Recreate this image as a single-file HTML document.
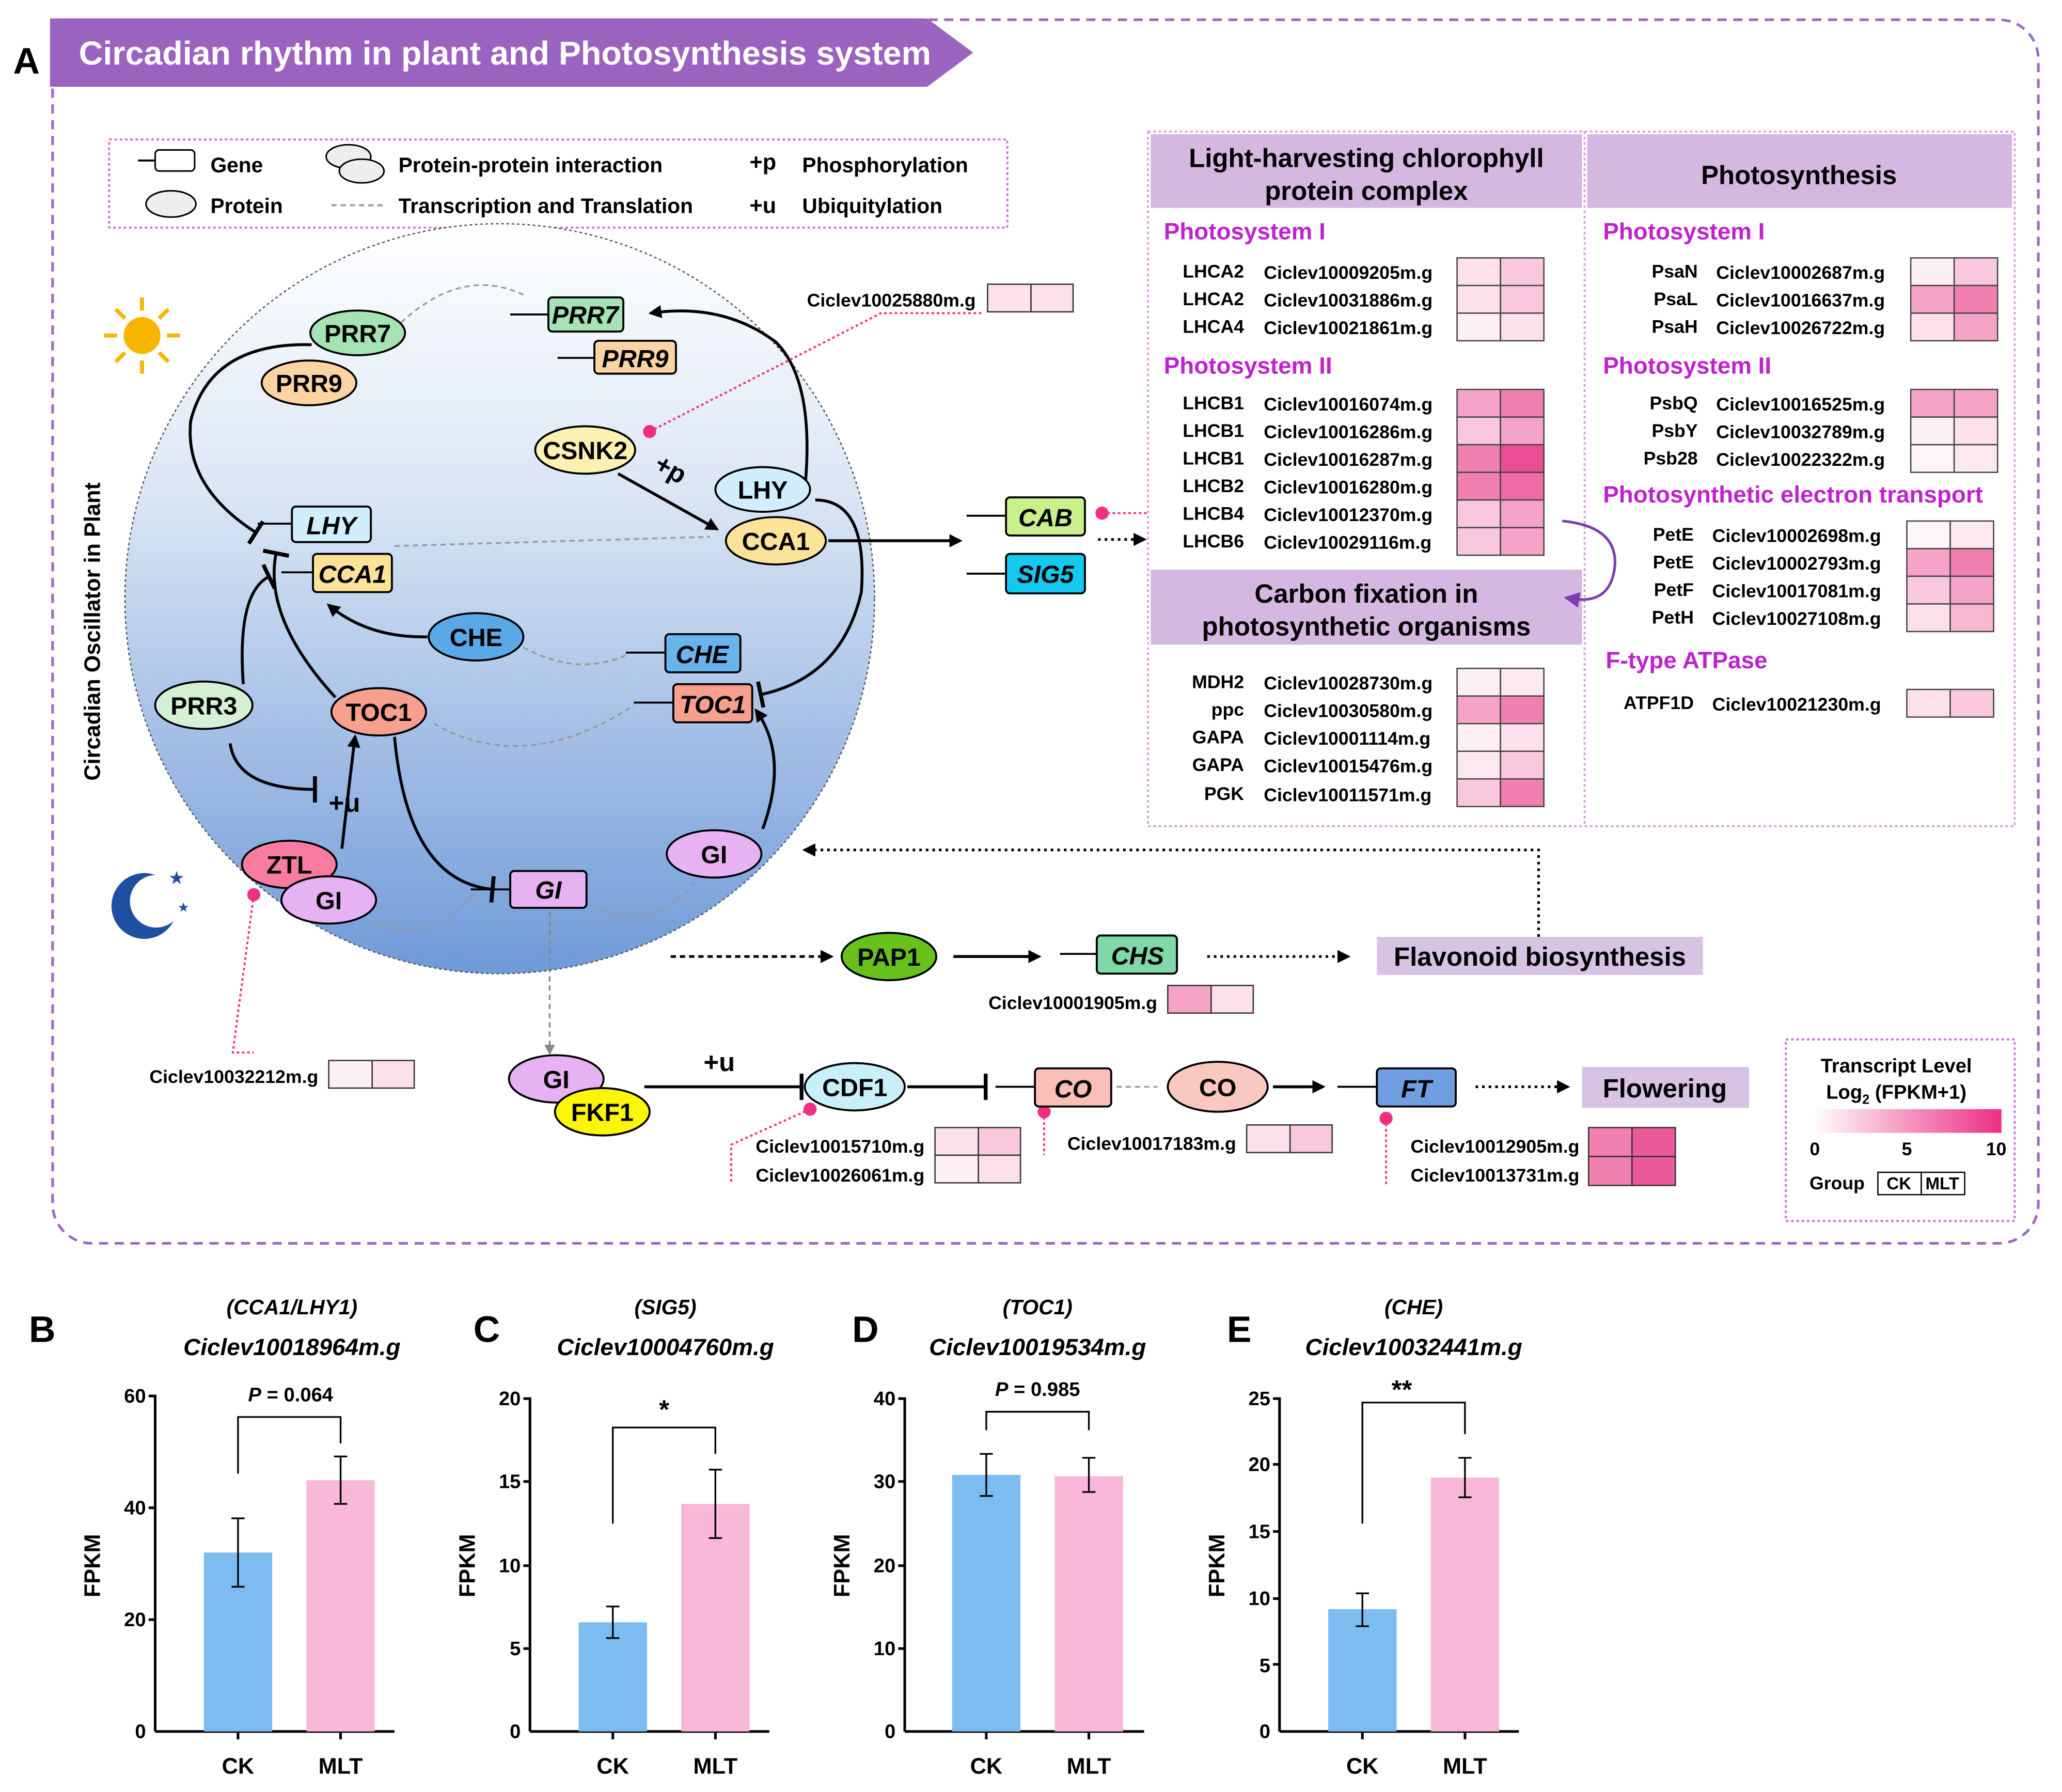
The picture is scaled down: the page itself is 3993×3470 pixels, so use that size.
<!DOCTYPE html>
<html><head><meta charset="utf-8"><style>html,body{margin:0;padding:0;background:#fff}svg{display:block}text{font-family:"Liberation Sans",Arial,sans-serif}</style></head>
<body>
<svg width="3993" height="3470" viewBox="0 0 1568 1362" preserveAspectRatio="none" xmlns="http://www.w3.org/2000/svg">
<defs>
<linearGradient id="cg" x1="0" y1="0" x2="0" y2="1"><stop offset="0" stop-color="#ffffff"/><stop offset="0.35" stop-color="#dce7f5"/><stop offset="1" stop-color="#6f9ad8"/></linearGradient>
<linearGradient id="lg" x1="0" y1="0" x2="1" y2="0"><stop offset="0" stop-color="#ffffff"/><stop offset="1" stop-color="#ec2f84"/></linearGradient>
<marker id="ar" markerWidth="10" markerHeight="10" refX="8" refY="5" orient="auto" markerUnits="userSpaceOnUse"><path d="M0,0 L10,5 L0,10 z" fill="#000"/></marker>
<marker id="arg" markerWidth="8" markerHeight="8" refX="6" refY="4" orient="auto" markerUnits="userSpaceOnUse"><path d="M0,0 L8,4 L0,8 z" fill="#888"/></marker>
<marker id="arp" markerWidth="12" markerHeight="12" refX="6" refY="6" orient="auto" markerUnits="userSpaceOnUse"><path d="M0,0 L12,6 L0,12 z" fill="#7b3fb0"/></marker>
<marker id="tb" markerWidth="4" markerHeight="20" refX="2" refY="10" orient="auto" markerUnits="userSpaceOnUse"><rect x="0" y="0" width="3" height="20" fill="#000"/></marker>
</defs>

<rect x="40" y="15" width="1510" height="930" rx="30" fill="none" stroke="#9b6abf" stroke-width="2" stroke-dasharray="7,5"/>
<polygon points="38,14 705,14 740,40 705,66 38,66" fill="#9b63c0"/>
<text x="60" y="49" font-size="25" font-weight="bold" fill="#fff" textLength="648" lengthAdjust="spacingAndGlyphs">Circadian rhythm in plant and Photosynthesis system</text>
<text x="10" y="56" font-size="28" font-weight="bold">A</text>

<rect x="83" y="106" width="683" height="67" fill="none" stroke="#d070d0" stroke-width="1.5" stroke-dasharray="2,2"/>
<line x1="105" y1="122" x2="118" y2="122" stroke="#000" stroke-width="1.5"/><rect x="118" y="114" width="30" height="16" rx="3" fill="#fff" stroke="#000" stroke-width="1.2"/>
<text x="160" y="131" font-size="16" font-weight="bold">Gene</text>
<ellipse cx="130" cy="155" rx="19" ry="10" fill="#eee" stroke="#000" stroke-width="1.2"/><text x="160" y="162" font-size="16" font-weight="bold">Protein</text>
<ellipse cx="265" cy="119" rx="17" ry="9" fill="#eee" stroke="#000" stroke-width="1.2"/><ellipse cx="275" cy="130" rx="17" ry="9" fill="#eee" stroke="#000" stroke-width="1.2"/>
<text x="303" y="131" font-size="16" font-weight="bold">Protein-protein interaction</text>
<line x1="252" y1="156" x2="293" y2="156" stroke="#999" stroke-width="1.5" stroke-dasharray="4,3"/>
<text x="303" y="162" font-size="16" font-weight="bold">Transcription and Translation</text>
<text x="570" y="129" font-size="17" font-weight="bold">+p</text><text x="610" y="131" font-size="16" font-weight="bold">Phosphorylation</text>
<text x="570" y="162" font-size="17" font-weight="bold">+u</text><text x="610" y="162" font-size="16" font-weight="bold">Ubiquitylation</text>

<circle cx="380" cy="455" r="285" fill="url(#cg)" stroke="#555" stroke-width="1" stroke-dasharray="2,2"/>
<text x="76" y="480" font-size="17" font-weight="bold" transform="rotate(-90 76 480)" text-anchor="middle">Circadian Oscillator in Plant</text>
<g stroke="#f7b500" stroke-width="3"><line x1="108" y1="226" x2="108" y2="236"/><line x1="108" y1="274" x2="108" y2="284"/><line x1="79" y1="255" x2="89" y2="255"/><line x1="127" y1="255" x2="137" y2="255"/><line x1="88" y1="235" x2="95" y2="242"/><line x1="121" y1="268" x2="128" y2="275"/><line x1="88" y1="275" x2="95" y2="268"/><line x1="121" y1="242" x2="128" y2="235"/></g>
<circle cx="108" cy="255" r="14" fill="#f7b500"/>
<path d="M118,665 A25,25 0 1 0 132,700 A20,20 0 1 1 118,665 z" fill="#1f4fa0"/>
<text x="128" y="672" font-size="14" fill="#1f4fa0">★</text><text x="135" y="693" font-size="10" fill="#1f4fa0">★</text>

<g fill="none" stroke="#999" stroke-width="1.3" stroke-dasharray="4,3">
<path d="M300,250 Q350,200 400,225"/>
<path d="M300,415 L540,408"/>
<path d="M398,492 Q440,515 478,497"/>
<path d="M330,550 Q400,590 482,536"/>
<path d="M280,700 Q330,720 360,678"/>
<path d="M450,690 Q500,710 530,668"/>
<path d="M849,826 L880,826"/>
</g>
<line x1="418" y1="693" x2="418" y2="800" stroke="#888" stroke-width="1.3" stroke-dasharray="4,3" marker-end="url(#arg)"/>

<g fill="none" stroke="#000" stroke-width="2.2">
<path d="M237,262 Q160,260 145,320 Q140,370 195,405" marker-end="url(#tb)"/>
<path d="M255,530 Q200,470 210,420" marker-end="url(#tb)"/>
<path d="M185,520 Q180,450 205,438" marker-end="url(#tb)"/>
<path d="M325,484 Q280,485 250,460" marker-end="url(#ar)"/>
<path d="M470,360 L545,402" marker-end="url(#ar)"/>
<path d="M620,380 Q660,380 655,450 Q640,515 578,528" marker-end="url(#tb)"/>
<path d="M612,372 Q620,290 590,260 Q550,230 495,238" marker-end="url(#ar)"/>
<path d="M630,411 L730,411" marker-end="url(#ar)"/>
<path d="M260,645 Q265,600 270,560" marker-end="url(#ar)"/>
<path d="M175,565 Q180,600 240,600" marker-end="url(#tb)"/>
<path d="M300,560 Q310,670 375,676" marker-end="url(#tb)"/>
<path d="M580,630 Q600,575 575,540" marker-end="url(#ar)"/>
<path d="M725,727 L790,727" marker-end="url(#ar)"/>
<path d="M490,826 L610,826" marker-end="url(#tb)"/>
<path d="M690,826 L750,826" marker-end="url(#tb)"/>
<path d="M968,826 L1006,826" marker-end="url(#ar)"/>
</g>
<g fill="none" stroke="#000" stroke-width="2" stroke-dasharray="4,3">
<path d="M510,727 L632,727" marker-end="url(#ar)"/>
</g>
<g fill="none" stroke="#000" stroke-width="2" stroke-dasharray="2,3">
<path d="M835,410 L870,410" marker-end="url(#ar)"/>
<path d="M918,727 L1025,727" marker-end="url(#ar)"/>
<path d="M1122,826 L1192,826" marker-end="url(#ar)"/>
<path d="M1170,712 L1170,646 L612,646" marker-end="url(#ar)"/>
</g>
<text x="497" y="362" font-size="20" font-weight="bold" transform="rotate(30 507 358)">+p</text>
<text x="250" y="617" font-size="20" font-weight="bold">+u</text>
<text x="535" y="814" font-size="20" font-weight="bold">+u</text>

<g fill="none" stroke="#f0307f" stroke-width="1.5" stroke-dasharray="2,2">
<path d="M494,328 L670,238 L748,238"/>
<path d="M838,390 L872,390"/>
<path d="M193,680 L177,800 L193,800"/>
<path d="M616,843 L556,870 L556,900"/>
<path d="M794,845 L794,878"/>
<path d="M1054,850 L1054,900"/>
<path d="M894,300 L894,410"/>
</g>
<g fill="#f0307f"><circle cx="494" cy="328" r="5"/><circle cx="838" cy="390" r="5"/><circle cx="193" cy="680" r="5"/><circle cx="616" cy="843" r="5"/><circle cx="794" cy="845" r="5"/><circle cx="1054" cy="850" r="5"/></g>

<g stroke="#000" stroke-width="1.5" font-weight="bold" font-size="19" text-anchor="middle">
<ellipse cx="272" cy="253" rx="36" ry="17" fill="#a6e3b4"/><text x="272" y="260" stroke="none">PRR7</text>
<ellipse cx="235" cy="291" rx="36" ry="17" fill="#fcd4a4"/><text x="235" y="298" stroke="none">PRR9</text>
<ellipse cx="445" cy="342" rx="38" ry="18" fill="#fbf1b3"/><text x="445" y="349" stroke="none">CSNK2</text>
<ellipse cx="580" cy="372" rx="36" ry="17" fill="#d0eefb"/><text x="580" y="379" stroke="none">LHY</text>
<ellipse cx="590" cy="411" rx="38" ry="18" fill="#fde39a"/><text x="590" y="418" stroke="none">CCA1</text>
<ellipse cx="362" cy="484" rx="36" ry="18" fill="#5ba8e8"/><text x="362" y="491" stroke="none">CHE</text>
<ellipse cx="288" cy="541" rx="36" ry="18" fill="#f7a08e"/><text x="288" y="548" stroke="none">TOC1</text>
<ellipse cx="155" cy="536" rx="37" ry="18" fill="#d6f0d6"/><text x="155" y="543" stroke="none">PRR3</text>
<ellipse cx="220" cy="657" rx="36" ry="18" fill="#f77ca0"/><text x="220" y="664" stroke="none">ZTL</text>
<ellipse cx="250" cy="684" rx="36" ry="18" fill="#e6b2f2"/><text x="250" y="691" stroke="none">GI</text>
<ellipse cx="543" cy="649" rx="36" ry="18" fill="#e6b2f2"/><text x="543" y="656" stroke="none">GI</text>
<ellipse cx="676" cy="727" rx="36" ry="18" fill="#66c21a"/><text x="676" y="734" stroke="none">PAP1</text>
<ellipse cx="423" cy="820" rx="36" ry="18" fill="#e6b2f2"/><text x="423" y="827" stroke="none">GI</text>
<ellipse cx="458" cy="845" rx="36" ry="18" fill="#fbf50a"/><text x="458" y="852" stroke="none">FKF1</text>
<ellipse cx="650" cy="826" rx="38" ry="18" fill="#c8f0f8"/><text x="650" y="833" stroke="none">CDF1</text>
<ellipse cx="926" cy="826" rx="38" ry="19" fill="#f9c8c0"/><text x="926" y="833" stroke="none">CO</text>
</g>

<g stroke="#000" stroke-width="1.5" font-weight="bold" font-style="italic" font-size="19" text-anchor="middle">
<line x1="388" y1="239" x2="417" y2="239"/><rect x="417" y="226" width="57" height="26" rx="3" fill="#a6e3b4"/><text x="445" y="246" stroke="none">PRR7</text>
<line x1="424" y1="272" x2="452" y2="272"/><rect x="452" y="259" width="62" height="25" rx="3" fill="#fcd4a4"/><text x="483" y="279" stroke="none">PRR9</text>
<line x1="196" y1="398" x2="222" y2="398"/><rect x="222" y="385" width="60" height="27" rx="3" fill="#d0eefb"/><text x="252" y="406" stroke="none">LHY</text>
<line x1="214" y1="435" x2="238" y2="435"/><rect x="238" y="421" width="60" height="29" rx="3" fill="#fde39a"/><text x="268" y="443" stroke="none">CCA1</text>
<line x1="476" y1="496" x2="506" y2="496"/><rect x="506" y="482" width="57" height="29" rx="3" fill="#6ab4ee"/><text x="534" y="504" stroke="none">CHE</text>
<line x1="482" y1="534" x2="512" y2="534"/><rect x="512" y="520" width="60" height="29" rx="3" fill="#f7a08e"/><text x="542" y="542" stroke="none">TOC1</text>
<line x1="358" y1="676" x2="388" y2="676"/><rect x="388" y="662" width="58" height="28" rx="3" fill="#e6b2f2"/><text x="417" y="683" stroke="none">GI</text>
<line x1="735" y1="392" x2="765" y2="392"/><rect x="765" y="378" width="60" height="29" rx="3" fill="#c9f08a"/><text x="795" y="400" stroke="none">CAB</text>
<line x1="735" y1="436" x2="765" y2="436"/><rect x="765" y="421" width="60" height="30" rx="3" fill="#14c8f0"/><text x="795" y="443" stroke="none">SIG5</text>
<line x1="806" y1="725" x2="834" y2="725"/><rect x="834" y="711" width="61" height="29" rx="3" fill="#7fd8a8"/><text x="865" y="733" stroke="none">CHS</text>
<line x1="757" y1="826" x2="787" y2="826"/><rect x="787" y="812" width="58" height="29" rx="3" fill="#f9c0b8"/><text x="816" y="834" stroke="none">CO</text>
<line x1="1017" y1="826" x2="1047" y2="826"/><rect x="1047" y="812" width="60" height="29" rx="3" fill="#6f9fe0"/><text x="1077" y="834" stroke="none">FT</text>
</g>
<rect x="1047" y="712" width="248" height="29" fill="#d9c3e4"/><text x="1171" y="734" font-size="20" font-weight="bold" text-anchor="middle">Flavonoid biosynthesis</text>
<rect x="1203" y="811" width="127" height="31" fill="#d9c3e4"/><text x="1266" y="834" font-size="20" font-weight="bold" text-anchor="middle">Flowering</text>

<g font-size="14" font-weight="bold" text-anchor="end">
<text x="742" y="233">Ciclev10025880m.g</text>
<text x="880" y="767">Ciclev10001905m.g</text>
<text x="242" y="823">Ciclev10032212m.g</text>
<text x="703" y="876">Ciclev10015710m.g</text>
<text x="703" y="898">Ciclev10026061m.g</text>
<text x="940" y="874">Ciclev10017183m.g</text>
<text x="1201" y="876">Ciclev10012905m.g</text>
<text x="1201" y="898">Ciclev10013731m.g</text>
</g>
<g stroke="#333" stroke-width="1">
<rect x="751" y="216" width="33" height="21" fill="#fce0ec"/><rect x="784" y="216" width="32" height="21" fill="#fce0ec"/>
<rect x="888" y="749" width="33" height="21" fill="#f5a3c6"/><rect x="921" y="749" width="32" height="21" fill="#fce0ec"/>
<rect x="250" y="806" width="33" height="21" fill="#fdf0f5"/><rect x="283" y="806" width="32" height="21" fill="#fce0ec"/>
<rect x="711" y="857" width="33" height="21" fill="#fce0ec"/><rect x="744" y="857" width="32" height="21" fill="#f9c8dd"/>
<rect x="711" y="878" width="33" height="21" fill="#fdf0f5"/><rect x="744" y="878" width="32" height="21" fill="#fce0ec"/>
<rect x="948" y="855" width="33" height="21" fill="#fce0ec"/><rect x="981" y="855" width="32" height="21" fill="#f9c8dd"/>
<rect x="1208" y="857" width="33" height="22" fill="#f080b0"/><rect x="1241" y="857" width="33" height="22" fill="#ec5a9c"/>
<rect x="1208" y="879" width="33" height="22" fill="#f080b0"/><rect x="1241" y="879" width="33" height="22" fill="#ec5a9c"/>
</g>

<rect x="1358" y="790" width="174" height="138" fill="none" stroke="#d070d0" stroke-width="1.5" stroke-dasharray="2,2"/>
<text x="1442" y="815" font-size="15" font-weight="bold" text-anchor="middle">Transcript Level</text>
<text x="1442" y="835" font-size="15" font-weight="bold" text-anchor="middle">Log<tspan font-size="10" dy="4">2</tspan><tspan dy="-4"> (FPKM+1)</tspan></text>
<rect x="1378" y="843" width="144" height="18" fill="url(#lg)"/>
<text x="1380" y="878" font-size="14" font-weight="bold" text-anchor="middle">0</text><text x="1450" y="878" font-size="14" font-weight="bold" text-anchor="middle">5</text><text x="1518" y="878" font-size="14" font-weight="bold" text-anchor="middle">10</text>
<text x="1376" y="904" font-size="14" font-weight="bold">Group</text>
<rect x="1428" y="891" width="33" height="17" fill="#fff" stroke="#000"/><rect x="1461" y="891" width="33" height="17" fill="#fff" stroke="#000"/>
<text x="1444" y="904" font-size="13" font-weight="bold" text-anchor="middle">CK</text><text x="1477" y="904" font-size="13" font-weight="bold" text-anchor="middle">MLT</text>

<rect x="873" y="100" width="659" height="528" fill="#fff" stroke="#d8a0e0" stroke-width="1.5" stroke-dasharray="2,2"/>
<line x1="1205" y1="100" x2="1205" y2="628" stroke="#d8a0e0" stroke-width="1.5" stroke-dasharray="2,2"/>
<rect x="875" y="102" width="328" height="56" fill="#d4b8e2"/>
<rect x="1207" y="102" width="323" height="56" fill="#d4b8e2"/>
<rect x="875" y="433" width="328" height="57" fill="#d4b8e2"/>
<g font-size="20" font-weight="bold" text-anchor="middle">
<text x="1039" y="127">Light-harvesting chlorophyll</text><text x="1039" y="152">protein complex</text>
<text x="1368" y="140">Photosynthesis</text>
<text x="1039" y="458">Carbon fixation in</text><text x="1039" y="483">photosynthetic organisms</text>
</g>
<g font-size="18" font-weight="bold" fill="#c020d0">
<text x="885" y="182">Photosystem I</text><text x="885" y="284">Photosystem II</text>
<text x="1219" y="182">Photosystem I</text><text x="1219" y="284">Photosystem II</text>
<text x="1219" y="382">Photosynthetic electron transport</text>
<text x="1221" y="508">F-type ATPase</text>
</g>
<path d="M1188,396 Q1230,400 1228,430 Q1225,460 1195,455" fill="none" stroke="#7b3fb0" stroke-width="2" marker-end="url(#arp)"/>
<g font-size="14" font-weight="bold">
<g text-anchor="end">
<text x="946" y="211">LHCA2</text><text x="946" y="232">LHCA2</text><text x="946" y="253">LHCA4</text>
<text x="946" y="311">LHCB1</text><text x="946" y="332">LHCB1</text><text x="946" y="353">LHCB1</text><text x="946" y="374">LHCB2</text><text x="946" y="395">LHCB4</text><text x="946" y="416">LHCB6</text>
<text x="946" y="523">MDH2</text><text x="946" y="544">ppc</text><text x="946" y="565">GAPA</text><text x="946" y="586">GAPA</text><text x="946" y="608">PGK</text>
<text x="1291" y="211">PsaN</text><text x="1291" y="232">PsaL</text><text x="1291" y="253">PsaH</text>
<text x="1291" y="311">PsbQ</text><text x="1291" y="332">PsbY</text><text x="1291" y="353">Psb28</text>
<text x="1288" y="411">PetE</text><text x="1288" y="432">PetE</text><text x="1288" y="453">PetF</text><text x="1288" y="474">PetH</text>
<text x="1288" y="539">ATPF1D</text>
</g>
<text x="961" y="212">Ciclev10009205m.g</text><text x="961" y="233">Ciclev10031886m.g</text><text x="961" y="254">Ciclev10021861m.g</text>
<text x="961" y="312">Ciclev10016074m.g</text><text x="961" y="333">Ciclev10016286m.g</text><text x="961" y="354">Ciclev10016287m.g</text><text x="961" y="375">Ciclev10016280m.g</text><text x="961" y="396">Ciclev10012370m.g</text><text x="961" y="417">Ciclev10029116m.g</text>
<text x="961" y="524">Ciclev10028730m.g</text><text x="961" y="545">Ciclev10030580m.g</text><text x="961" y="566">Ciclev10001114m.g</text><text x="961" y="587">Ciclev10015476m.g</text><text x="961" y="609">Ciclev10011571m.g</text>
<text x="1305" y="212">Ciclev10002687m.g</text><text x="1305" y="233">Ciclev10016637m.g</text><text x="1305" y="254">Ciclev10026722m.g</text>
<text x="1305" y="312">Ciclev10016525m.g</text><text x="1305" y="333">Ciclev10032789m.g</text><text x="1305" y="354">Ciclev10022322m.g</text>
<text x="1302" y="412">Ciclev10002698m.g</text><text x="1302" y="433">Ciclev10002793m.g</text><text x="1302" y="454">Ciclev10017081m.g</text><text x="1302" y="475">Ciclev10027108m.g</text>
<text x="1302" y="540">Ciclev10021230m.g</text>
</g>
<g stroke="#444" stroke-width="1">
<rect x="1108" y="196" width="33" height="21" fill="#fce0ec"/><rect x="1141" y="196" width="33" height="21" fill="#f9c8dd"/>
<rect x="1108" y="217" width="33" height="21" fill="#fce0ec"/><rect x="1141" y="217" width="33" height="21" fill="#f9c8dd"/>
<rect x="1108" y="238" width="33" height="21" fill="#fdf0f5"/><rect x="1141" y="238" width="33" height="21" fill="#fce0ec"/>
<rect x="1108" y="296" width="33" height="21" fill="#f5a3c6"/><rect x="1141" y="296" width="33" height="21" fill="#f080b0"/>
<rect x="1108" y="317" width="33" height="21" fill="#f9c8dd"/><rect x="1141" y="317" width="33" height="21" fill="#f5a3c6"/>
<rect x="1108" y="338" width="33" height="21" fill="#f080b0"/><rect x="1141" y="338" width="33" height="21" fill="#ec4c94"/>
<rect x="1108" y="359" width="33" height="21" fill="#f080b0"/><rect x="1141" y="359" width="33" height="21" fill="#f06aa5"/>
<rect x="1108" y="380" width="33" height="21" fill="#f9c8dd"/><rect x="1141" y="380" width="33" height="21" fill="#f5a3c6"/>
<rect x="1108" y="401" width="33" height="21" fill="#f9c8dd"/><rect x="1141" y="401" width="33" height="21" fill="#f5a3c6"/>
<rect x="1108" y="508" width="33" height="21" fill="#fdf0f5"/><rect x="1141" y="508" width="33" height="21" fill="#fce8f0"/>
<rect x="1108" y="529" width="33" height="21" fill="#f5a3c6"/><rect x="1141" y="529" width="33" height="21" fill="#f080b0"/>
<rect x="1108" y="550" width="33" height="21" fill="#fdf0f5"/><rect x="1141" y="550" width="33" height="21" fill="#fce0ec"/>
<rect x="1108" y="571" width="33" height="21" fill="#fce8f0"/><rect x="1141" y="571" width="33" height="21" fill="#f9c8dd"/>
<rect x="1108" y="592" width="33" height="21" fill="#f9c8dd"/><rect x="1141" y="592" width="33" height="21" fill="#f080b0"/>
<rect x="1453" y="196" width="33" height="21" fill="#fdf0f5"/><rect x="1486" y="196" width="33" height="21" fill="#f9c8dd"/>
<rect x="1453" y="217" width="33" height="21" fill="#f5a3c6"/><rect x="1486" y="217" width="33" height="21" fill="#f080b0"/>
<rect x="1453" y="238" width="33" height="21" fill="#fce0ec"/><rect x="1486" y="238" width="33" height="21" fill="#f5a3c6"/>
<rect x="1453" y="296" width="33" height="21" fill="#f5a3c6"/><rect x="1486" y="296" width="33" height="21" fill="#f5a3c6"/>
<rect x="1453" y="317" width="33" height="21" fill="#fdf0f5"/><rect x="1486" y="317" width="33" height="21" fill="#fce0ec"/>
<rect x="1453" y="338" width="33" height="21" fill="#fdf6f9"/><rect x="1486" y="338" width="33" height="21" fill="#fce8f0"/>
<rect x="1450" y="396" width="33" height="21" fill="#fdf6f9"/><rect x="1483" y="396" width="33" height="21" fill="#fce8f0"/>
<rect x="1450" y="417" width="33" height="21" fill="#f5a3c6"/><rect x="1483" y="417" width="33" height="21" fill="#f080b0"/>
<rect x="1450" y="438" width="33" height="21" fill="#f9c8dd"/><rect x="1483" y="438" width="33" height="21" fill="#f5a3c6"/>
<rect x="1450" y="459" width="33" height="21" fill="#fce0ec"/><rect x="1483" y="459" width="33" height="21" fill="#f9b8d2"/>
<rect x="1450" y="524" width="33" height="21" fill="#fce0ec"/><rect x="1483" y="524" width="33" height="21" fill="#f9c8dd"/>
</g>

<g font-weight="bold">
<text x="22" y="1020" font-size="28">B</text><text x="360" y="1020" font-size="28">C</text><text x="648" y="1020" font-size="28">D</text><text x="933" y="1020" font-size="28">E</text>
<g font-size="16" font-style="italic" text-anchor="middle">
<text x="222" y="999">(CCA1/LHY1)</text><text x="222" y="1030" font-size="18">Ciclev10018964m.g</text>
<text x="506" y="999">(SIG5)</text><text x="506" y="1030" font-size="18">Ciclev10004760m.g</text>
<text x="789" y="999">(TOC1)</text><text x="789" y="1030" font-size="18">Ciclev10019534m.g</text>
<text x="1075" y="999">(CHE)</text><text x="1075" y="1030" font-size="18">Ciclev10032441m.g</text>
</g>
<g font-size="17">
<text x="76" y="1190" transform="rotate(-90 76 1190)" text-anchor="middle">FPKM</text>
<text x="361" y="1190" transform="rotate(-90 361 1190)" text-anchor="middle">FPKM</text>
<text x="646" y="1190" transform="rotate(-90 646 1190)" text-anchor="middle">FPKM</text>
<text x="931" y="1190" transform="rotate(-90 931 1190)" text-anchor="middle">FPKM</text>
</g>
</g>
<g font-size="15" font-weight="bold">
<g text-anchor="end"><text x="111" y="1066">60</text><text x="111" y="1151">40</text><text x="111" y="1236">20</text><text x="111" y="1321">0</text></g>
<g stroke="#000" stroke-width="2"><line x1="118" y1="1060" x2="118" y2="1316"/><line x1="118" y1="1316" x2="300" y2="1316"/><line x1="113" y1="1061" x2="118" y2="1061"/><line x1="113" y1="1146" x2="118" y2="1146"/><line x1="113" y1="1231" x2="118" y2="1231"/><line x1="181" y1="1316" x2="181" y2="1322"/><line x1="259" y1="1316" x2="259" y2="1322"/></g>
<rect x="155" y="1180" width="52" height="136" fill="#7cbcf0"/><rect x="233" y="1125" width="52" height="191" fill="#f9b8d9"/>
<g stroke="#000" stroke-width="1.3" fill="none"><path d="M181,1154 V1206 M176,1154 H186 M176,1206 H186 M259,1107 V1143 M254,1107 H264 M254,1143 H264 M181,1120 V1077 H259 V1097"/></g>
<text x="221" y="1065" text-anchor="middle"><tspan font-style="italic">P</tspan> = 0.064</text>
<text x="181" y="1348" text-anchor="middle" font-size="17">CK</text><text x="259" y="1348" text-anchor="middle" font-size="17">MLT</text>
<g text-anchor="end"><text x="396" y="1068">20</text><text x="396" y="1131">15</text><text x="396" y="1195">10</text><text x="396" y="1258">5</text><text x="396" y="1321">0</text></g>
<g stroke="#000" stroke-width="2"><line x1="403" y1="1062" x2="403" y2="1316"/><line x1="403" y1="1316" x2="585" y2="1316"/><line x1="398" y1="1063" x2="403" y2="1063"/><line x1="398" y1="1126" x2="403" y2="1126"/><line x1="398" y1="1190" x2="403" y2="1190"/><line x1="398" y1="1253" x2="403" y2="1253"/><line x1="466" y1="1316" x2="466" y2="1322"/><line x1="544" y1="1316" x2="544" y2="1322"/></g>
<rect x="440" y="1233" width="52" height="83" fill="#7cbcf0"/><rect x="518" y="1143" width="52" height="173" fill="#f9b8d9"/>
<g stroke="#000" stroke-width="1.3" fill="none"><path d="M466,1221 V1245 M461,1221 H471 M461,1245 H471 M544,1117 V1169 M539,1117 H549 M539,1169 H549 M466,1158 V1085 H544 V1105"/></g>
<text x="505" y="1078" text-anchor="middle" font-size="20">*</text>
<text x="466" y="1348" text-anchor="middle" font-size="17">CK</text><text x="544" y="1348" text-anchor="middle" font-size="17">MLT</text>
<g text-anchor="end"><text x="681" y="1068">40</text><text x="681" y="1131">30</text><text x="681" y="1195">20</text><text x="681" y="1258">10</text><text x="681" y="1321">0</text></g>
<g stroke="#000" stroke-width="2"><line x1="688" y1="1062" x2="688" y2="1316"/><line x1="688" y1="1316" x2="870" y2="1316"/><line x1="683" y1="1063" x2="688" y2="1063"/><line x1="683" y1="1126" x2="688" y2="1126"/><line x1="683" y1="1190" x2="688" y2="1190"/><line x1="683" y1="1253" x2="688" y2="1253"/><line x1="750" y1="1316" x2="750" y2="1322"/><line x1="828" y1="1316" x2="828" y2="1322"/></g>
<rect x="724" y="1121" width="52" height="195" fill="#7cbcf0"/><rect x="802" y="1122" width="52" height="194" fill="#f9b8d9"/>
<g stroke="#000" stroke-width="1.3" fill="none"><path d="M750,1105 V1137 M745,1105 H755 M745,1137 H755 M828,1108 V1134 M823,1108 H833 M823,1134 H833 M750,1087 V1073 H828 V1087"/></g>
<text x="789" y="1061" text-anchor="middle"><tspan font-style="italic">P</tspan> = 0.985</text>
<text x="750" y="1348" text-anchor="middle" font-size="17">CK</text><text x="828" y="1348" text-anchor="middle" font-size="17">MLT</text>
<g text-anchor="end"><text x="966" y="1068">25</text><text x="966" y="1118">20</text><text x="966" y="1169">15</text><text x="966" y="1220">10</text><text x="966" y="1271">5</text><text x="966" y="1321">0</text></g>
<g stroke="#000" stroke-width="2"><line x1="973" y1="1062" x2="973" y2="1316"/><line x1="973" y1="1316" x2="1155" y2="1316"/><line x1="968" y1="1063" x2="973" y2="1063"/><line x1="968" y1="1113" x2="973" y2="1113"/><line x1="968" y1="1164" x2="973" y2="1164"/><line x1="968" y1="1215" x2="973" y2="1215"/><line x1="968" y1="1265" x2="973" y2="1265"/><line x1="1036" y1="1316" x2="1036" y2="1322"/><line x1="1114" y1="1316" x2="1114" y2="1322"/></g>
<rect x="1010" y="1223" width="52" height="93" fill="#7cbcf0"/><rect x="1088" y="1123" width="52" height="193" fill="#f9b8d9"/>
<g stroke="#000" stroke-width="1.3" fill="none"><path d="M1036,1211 V1236 M1031,1211 H1041 M1031,1236 H1041 M1114,1108 V1138 M1109,1108 H1119 M1109,1138 H1119 M1036,1158 V1066 H1114 V1090"/></g>
<text x="1066" y="1063" text-anchor="middle" font-size="20">**</text>
<text x="1036" y="1348" text-anchor="middle" font-size="17">CK</text><text x="1114" y="1348" text-anchor="middle" font-size="17">MLT</text>
</g>
</svg>
</body></html>
